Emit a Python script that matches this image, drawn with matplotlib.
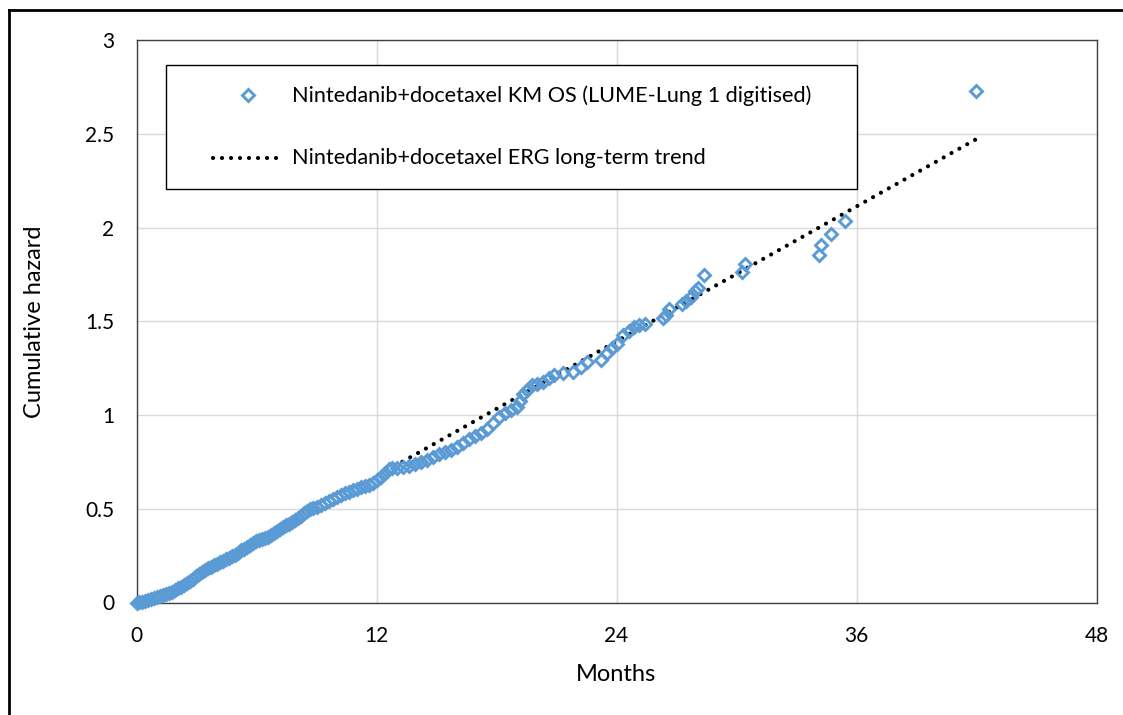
import matplotlib
matplotlib.use("Agg")
import matplotlib.pyplot as plt
from matplotlib.lines import Line2D
from matplotlib.patches import Rectangle

# ---- data ----
km_months = [0.00, 0.10, 0.25, 0.40, 0.55, 0.70, 0.85, 1.00, 1.15, 1.30, 1.45, 1.60, 1.75, 1.90,
             2.05, 2.20, 2.35, 2.50, 2.65, 2.80, 2.95, 3.10, 3.25, 3.40, 3.55, 3.70, 3.85, 4.00,
             4.15, 4.30, 4.45, 4.60, 4.75, 4.90, 5.05, 5.20, 5.35, 5.50, 5.65, 5.80, 5.95, 6.10,
             6.25, 6.40, 6.55, 6.70, 6.85, 7.00, 7.15, 7.30, 7.45, 7.60, 7.75, 7.90, 8.05, 8.20,
             8.35, 8.50, 8.65, 8.80, 9.00, 9.20, 9.40, 9.60, 9.80, 10.00, 10.20, 10.40, 10.60,
             10.80, 11.00, 11.20, 11.40, 11.60, 11.80, 12.00, 12.20, 12.40, 12.60, 12.75, 13.00,
             13.30, 13.60, 13.90, 14.20, 14.50, 14.80, 15.10, 15.40, 15.70, 16.00, 16.30, 16.60,
             16.90, 17.20, 17.50, 17.80, 18.10, 18.40, 18.70, 19.00, 19.15, 19.30, 19.50, 19.75,
             20.00, 20.30, 20.60, 20.85, 21.30, 21.80, 22.20, 22.50, 23.20, 23.50, 23.75, 24.00,
             24.30, 24.60, 24.85, 25.10, 25.40, 26.30, 26.45, 26.60, 27.25, 27.45, 27.70, 27.90,
             28.05, 28.35, 30.25, 30.42, 34.10, 34.20, 34.70, 35.40, 41.95]
km_hazard = [0.000, 0.003, 0.005, 0.008, 0.012, 0.018, 0.022, 0.028, 0.033, 0.040, 0.045, 0.050,
             0.058, 0.065, 0.075, 0.085, 0.095, 0.106, 0.116, 0.128, 0.140, 0.152, 0.165, 0.174,
             0.182, 0.192, 0.200, 0.208, 0.216, 0.224, 0.232, 0.240, 0.248, 0.256, 0.266, 0.278,
             0.288, 0.297, 0.305, 0.316, 0.326, 0.334, 0.340, 0.346, 0.352, 0.360, 0.372, 0.382,
             0.392, 0.402, 0.412, 0.420, 0.430, 0.442, 0.452, 0.464, 0.476, 0.488, 0.498, 0.505,
             0.512, 0.522, 0.530, 0.540, 0.552, 0.562, 0.575, 0.583, 0.590, 0.598, 0.606, 0.614,
             0.622, 0.628, 0.640, 0.655, 0.670, 0.690, 0.710, 0.716, 0.720, 0.722, 0.730, 0.740,
             0.752, 0.762, 0.774, 0.790, 0.804, 0.816, 0.830, 0.850, 0.872, 0.890, 0.905, 0.925,
             0.955, 0.990, 1.010, 1.025, 1.045, 1.075, 1.110, 1.135, 1.160, 1.165, 1.176, 1.200,
             1.212, 1.222, 1.232, 1.255, 1.282, 1.292, 1.330, 1.356, 1.380, 1.425, 1.450, 1.470,
             1.478, 1.486, 1.518, 1.535, 1.568, 1.590, 1.610, 1.630, 1.660, 1.680, 1.746, 1.765,
             1.808, 1.853, 1.906, 1.968, 2.036, 2.728]

trend_months = [12.9, 42.05]
trend_hazard = [0.727, 2.475]

x_ticks = [0, 12, 24, 36, 48]
y_ticks = [0, 0.5, 1, 1.5, 2, 2.5, 3]
y_tick_labels = ["0", "0.5", "1", "1.5", "2", "2.5", "3"]

label_km = "Nintedanib+docetaxel KM OS (LUME-Lung 1 digitised)"
label_trend = "Nintedanib+docetaxel ERG long-term trend"

# ---- style ----
plt.rcParams['font.family'] = ['Lato', 'DejaVu Sans']
W, H = 1123, 715
BLUE = '#5B9BD5'
FS = 15

fig = plt.figure(figsize=(W / 100, H / 100), dpi=100)
fig.patch.set_facecolor('white')

def fx(px):
    return px / W

def fy(py):
    return 1 - py / H

ax_l, ax_r, ax_t, ax_b = 136.5, 1096.5, 40, 602.5
ax = fig.add_axes([fx(ax_l), fy(ax_b), fx(ax_r) - fx(ax_l), fy(ax_t) - fy(ax_b)])
ax.set_xlim(0, 48)
ax.set_ylim(0, 3)
ax.set_xticks(x_ticks)
ax.set_yticks(y_ticks)
ax.set_yticklabels(y_tick_labels)
ax.grid(True, color='#D9D9D9', linewidth=1.0)
ax.set_axisbelow(True)
for s in ax.spines.values():
    s.set_color('#404040')
    s.set_linewidth(1.0)
ax.tick_params(axis='both', length=0, labelsize=FS, colors='#000000')
ax.tick_params(axis='x', pad=17)
ax.tick_params(axis='y', pad=16)

dot_style = dict(color='black', linewidth=3.0, linestyle=(0, (0.01, 2.15)),
                 dash_capstyle='round')
mk_style = dict(marker='D', markersize=6.6, markerfacecolor='none',
                markeredgecolor=BLUE, markeredgewidth=2.1, linestyle='none')

ax.plot(trend_months, trend_hazard, zorder=2, **dot_style)
ax.plot(km_months, km_hazard, zorder=3, clip_on=False, **mk_style)

ax.set_xlabel("Months", fontsize=17)
ax.set_ylabel("Cumulative hazard", fontsize=17)
ax.xaxis.set_label_coords(0.5, -(664 - ax_b) / (ax_b - ax_t), transform=ax.transAxes)
ax.yaxis.set_label_coords(-(ax_l - 45) / (ax_r - ax_l), 0.5, transform=ax.transAxes)

# ---- legend box (manual, to match placement) ----
lg = Rectangle((fx(166), fy(189)), fx(857) - fx(166), fy(65) - fy(189),
               transform=fig.transFigure, facecolor='white', edgecolor='black',
               linewidth=1.0, zorder=5)
fig.add_artist(lg)
fig.add_artist(Line2D([fx(248)], [fy(95)], transform=fig.transFigure, zorder=6, **mk_style))
fig.add_artist(Line2D([fx(213), fx(283)], [fy(158), fy(158)], transform=fig.transFigure,
                      zorder=6, **dot_style))
fig.text(fx(292), fy(96), label_km, fontsize=15.6, va='center', ha='left', zorder=6)
fig.text(fx(292), fy(158), label_trend, fontsize=15.6, va='center', ha='left', zorder=6)

# ---- outer frame (top and left visible) ----
fig.add_artist(Line2D([fx(9), fx(9)], [fy(10), fy(H + 5)], transform=fig.transFigure,
                      color='black', linewidth=2.0))
fig.add_artist(Line2D([fx(9), fx(W + 5)], [fy(10), fy(10)], transform=fig.transFigure,
                      color='black', linewidth=2.0))

fig.savefig("out.png", dpi=100, facecolor='white')
